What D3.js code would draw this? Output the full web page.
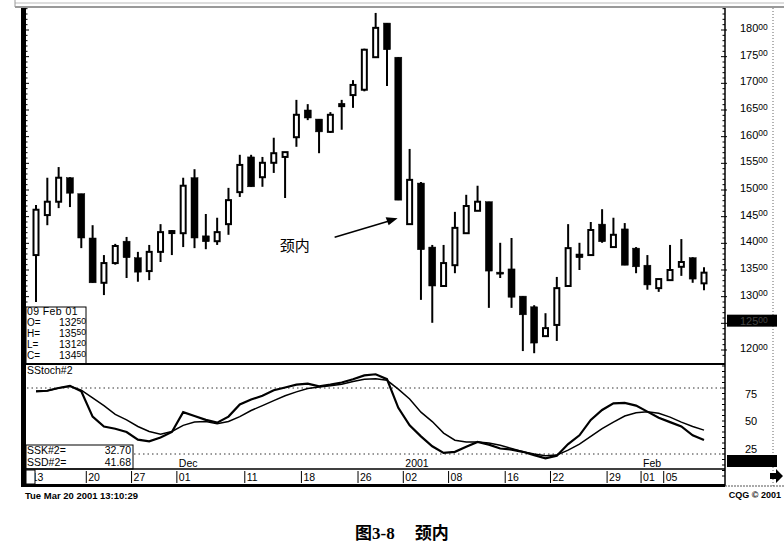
<!DOCTYPE html>
<html>
<head>
<meta charset="utf-8">
<script src="https://cdn.jsdelivr.net/npm/d3@7/dist/d3.min.js"></script>
<style>
  body { margin: 0; background: #fff; }
  svg { display: block; font-family: "Liberation Sans", Arial, sans-serif; }
  text { fill: #000; }
</style>
</head>
<body>
<svg id="chart" width="784" height="544"></svg>
<script>
// trading days shown on the chart
const dates = [
  '2000-11-14','2000-11-15','2000-11-16','2000-11-17','2000-11-20','2000-11-21','2000-11-22','2000-11-24',
  '2000-11-27','2000-11-28','2000-11-29','2000-11-30','2000-12-01','2000-12-04','2000-12-05','2000-12-06',
  '2000-12-07','2000-12-08','2000-12-11','2000-12-12','2000-12-13','2000-12-14','2000-12-15','2000-12-18',
  '2000-12-19','2000-12-20','2000-12-21','2000-12-22','2000-12-26','2000-12-27','2000-12-28','2000-12-29',
  '2001-01-02','2001-01-03','2001-01-04','2001-01-05','2001-01-08','2001-01-09','2001-01-10','2001-01-11',
  '2001-01-12','2001-01-16','2001-01-17','2001-01-18','2001-01-19','2001-01-22','2001-01-23','2001-01-24',
  '2001-01-25','2001-01-26','2001-01-29','2001-01-30','2001-01-31','2001-02-01','2001-02-02','2001-02-05',
  '2001-02-06','2001-02-07','2001-02-08','2001-02-09'
];
const opens = [
  13780,14530,14780,15230,14930,14100,13260,13630,14040,13730,13480,13840,14200,14190,15230,14140,
  14040,14360,14960,15620,15240,15510,15620,15990,16500,16330,16090,16580,16780,16880,17490,18130,
  17490,14360,15130,13930,13200,13590,14190,14610,14780,13460,13520,13010,12810,12260,12470,13200,
  13800,13780,14360,13930,14270,13910,13590,13160,13310,13560,13730,13250
];
const highs = [
  14720,15230,15430,15240,14930,14340,13780,13990,14120,13840,13970,14360,14250,15230,15390,14550,
  14480,15040,15660,15660,15620,15980,15710,16690,16610,16330,16460,16690,17060,17650,18320,18130,
  17490,15770,15150,13970,13970,14590,14910,15080,14780,14010,14100,13010,12840,12690,13370,14360,
  14010,14400,14640,14480,14380,13930,13780,13330,13970,14080,13740,13550
];
const lows = [
  12900,14340,14660,14680,13910,13260,13030,13600,13350,13280,13310,13650,13780,13930,13910,13890,
  13970,14160,14870,15060,15060,15320,14850,15810,16310,15690,16070,16130,16540,16850,17490,16950,
  14810,14360,12940,12510,13200,13440,14190,14610,12790,13350,12790,11980,11940,12260,12170,13200,
  13500,13780,14010,13930,13590,13440,13130,13090,13310,13390,13260,13120
];
const closes = [
  14630,14780,15230,14940,14100,13260,13630,13950,13730,13460,13840,14210,14230,15080,14100,14030,
  14210,14810,15470,15060,15510,15690,15710,16410,16350,16090,16410,16610,16970,17630,18040,17630,
  14810,15190,13880,13200,13630,14290,14700,14780,13480,13440,12990,12660,12130,12410,13160,13910,
  13730,14250,14030,14160,13590,13560,13220,13330,13500,13650,13330,13450
];

// slow stochastic, fast (SSK) and slow (SSD) lines
const sskValues = [
  77,77.5,80,82,77,54,45,43,40,33,31.5,35,40,58,54.5,51,48.5,54,65,69.5,73,78,80.5,83,84,81.5,83,85,88,91.5,
  92.5,88,62,46,36,27,21,22,26.5,31,28.5,25,24,22,19,16,18.5,29,37,51,60,66,66.5,64,58.5,53,49,45,37,32.7
];
const ssdValues = [
  77,77.5,80,81.5,78,71,64,56,51,45,40.5,38,40.5,46,49,49.5,47.5,49.5,54,59.5,64,68.5,73,76.5,79.5,81,82,83.5,86,88,
  88.5,87,79,70,58,49.5,39,32.5,31,31,30,28,25,22,20,18.5,19,23.5,29,36,43,49,54.5,57.5,58.5,57,53.5,49,45,41.68
];

const priceTicks = [18000,17500,17000,16500,16000,15500,15000,14500,14000,13500,13000,12500,12000];
const stochTicks = [75, 50, 25];
const stochGuides = [80, 20];
const dayTickDates = ['2000-11-13','2000-11-20','2000-11-27','2000-12-01','2000-12-11','2000-12-18','2000-12-26',
  '2001-01-02','2001-01-08','2001-01-16','2001-01-22','2001-01-29','2001-02-01','2001-02-05'];
const dayTickLabels = ['13','20','27','01','11','18','26','02','08','16','22','29','01','05'];
const monthTickDates = ['2000-12-01','2001-01-02','2001-02-01'];
const monthTickLabels = ['Dec','2001','Feb'];
const lastBar = { date: '09 Feb 01', o: 13250, h: 13550, l: 13120, c: 13450 };
const markerPrice = 12550;

const svg = d3.select('#chart');
const cjk = '"Noto Sans CJK SC", sans-serif';

const x = d3.scalePoint().domain(dates).range([36, 704]);
const xAt = (d) => {
  // dates before the first bar sit one step to the left
  const px = x(d);
  return px === undefined ? x(dates[0]) - x.step() * (dates[0] > d ? 1 : 0) : px;
};
const yP = d3.scaleLinear().domain([12000, 18000]).range([350, 30]);
const yS = d3.scaleLinear().domain([0, 100]).range([476, 366]);

// window frame
svg.append('line').attr('x1', 15).attr('x2', 784).attr('y1', 3).attr('y2', 3).attr('stroke', '#bbb');
svg.append('line').attr('x1', 15).attr('x2', 784).attr('y1', 7).attr('y2', 7).attr('stroke', '#777').attr('stroke-width', 1.5);
svg.append('line').attr('x1', 15).attr('x2', 15).attr('y1', 0).attr('y2', 7).attr('stroke', '#999');

// left heavy border with ticks
svg.append('rect').attr('x', 21).attr('y', 8).attr('width', 5).attr('height', 479).attr('fill', '#000');
svg.append('g').selectAll('line').data(d3.range(12000, 18401, 100)).join('line')
  .attr('x1', 26).attr('x2', (d) => d % 500 === 0 ? 29 : 27.5)
  .attr('y1', (d) => yP(d)).attr('y2', (d) => yP(d))
  .attr('stroke', '#000').attr('stroke-width', 1);

// price axis
const axisX = 725;
svg.append('line').attr('x1', axisX).attr('x2', axisX).attr('y1', 8).attr('y2', 486).attr('stroke', '#000').attr('stroke-width', 1.5);
svg.append('g').selectAll('line').data(d3.range(11900, 18401, 100)).join('line')
  .attr('x1', (d) => d % 500 === 0 ? axisX - 4 : axisX - 2.5).attr('x2', (d) => d % 500 === 0 ? axisX + 2 : axisX)
  .attr('y1', (d) => yP(d)).attr('y2', (d) => yP(d))
  .attr('stroke', '#000').attr('stroke-width', 1);
svg.append('line').attr('x1', 773).attr('x2', 773).attr('y1', 8).attr('y2', 486)
  .attr('stroke', '#666').attr('stroke-dasharray', '1,2');

const priceLabel = (sel, fill) => {
  sel.append('tspan').text((d) => String(d).slice(0, 3)).attr('fill', fill);
  sel.append('tspan').text((d) => String(d).slice(3)).attr('font-size', 8.5).attr('dy', -2.5).attr('fill', fill);
};

svg.append('rect').attr('x', 727).attr('y', yP(markerPrice) - 6).attr('width', 50).attr('height', 12).attr('fill', '#000');

svg.append('g').selectAll('text').data(priceTicks).join('text')
  .attr('x', 740).attr('y', (d) => yP(d) + 2)
  .attr('font-size', 11)
  .call(priceLabel, (d) => d === 12500 ? '#444' : '#000');

// candles
const candles = dates.map((d, i) => ({ d, o: opens[i], h: highs[i], l: lows[i], c: closes[i] }));
const cg = svg.append('g');
cg.selectAll('line.wick').data(candles).join('line')
  .attr('class', 'wick')
  .attr('x1', (d) => x(d.d)).attr('x2', (d) => x(d.d))
  .attr('y1', (d) => yP(d.h)).attr('y2', (d) => yP(d.l))
  .attr('stroke', '#000').attr('stroke-width', 2);
cg.selectAll('rect.body').data(candles).join('rect')
  .attr('class', 'body')
  .attr('x', (d) => x(d.d) - (d.c >= d.o ? 2.5 : 3.5))
  .attr('width', (d) => d.c >= d.o ? 5 : 7)
  .attr('y', (d) => yP(Math.max(d.o, d.c)))
  .attr('height', (d) => Math.max(2, Math.abs(yP(d.o) - yP(d.c))))
  .attr('fill', (d) => d.c >= d.o ? '#fff' : '#000')
  .attr('stroke', '#000').attr('stroke-width', (d) => d.c >= d.o ? 2 : 0.5);

// annotation
const tipX = x('2001-01-03') - 12;
const tipY = yP(14470);
svg.append('line').attr('x1', tipX - 63).attr('y1', tipY + 19).attr('x2', tipX - 6).attr('y2', tipY + 2)
  .attr('stroke', '#000').attr('stroke-width', 1.5);
svg.append('path')
  .attr('d', `M${tipX},${tipY} L${tipX - 12},${tipY - 1} L${tipX - 9},${tipY + 7} Z`)
  .attr('fill', '#000');
svg.append('text').attr('x', tipX - 118).attr('y', tipY + 33)
  .style('font-family', cjk).attr('font-size', 15)
  .text('颈内');

// OHLC box of the last bar
const ob = svg.append('g').attr('font-size', 10);
ob.append('rect').attr('x', 26).attr('y', 307).attr('width', 60).attr('height', 57)
  .attr('fill', '#fff').attr('stroke', '#000').attr('stroke-width', 1);
ob.append('text').attr('x', 27).attr('y', 315).text(lastBar.date).attr('font-size', 10.5).attr('letter-spacing', 0.4);
const ohlcRows = [['O=', lastBar.o], ['H=', lastBar.h], ['L=', lastBar.l], ['C=', lastBar.c]];
ohlcRows.forEach(([k, v], i) => {
  ob.append('text').attr('x', 27).attr('y', 326 + i * 11).text(k);
  ob.append('text').datum(v).attr('x', 59).attr('y', 326 + i * 11).attr('font-size', 10.5)
    .call(priceLabel, '#000');
});

// panel separator
svg.append('line').attr('x1', 26).attr('x2', axisX).attr('y1', 364).attr('y2', 364).attr('stroke', '#000').attr('stroke-width', 2);

// stochastic panel
svg.append('text').attr('x', 27).attr('y', 374).attr('font-size', 10.5).text('SStoch#2');
svg.append('g').selectAll('line').data(stochGuides).join('line')
  .attr('x1', (d) => d === 20 ? 134 : 27).attr('x2', axisX)
  .attr('y1', (d) => yS(d)).attr('y2', (d) => yS(d))
  .attr('stroke', '#333').attr('stroke-dasharray', '1.5,3');
svg.append('g').selectAll('line').data(d3.range(0, 101, 5)).join('line')
  .attr('x1', axisX - 3).attr('x2', axisX)
  .attr('y1', (d) => yS(d)).attr('y2', (d) => yS(d)).attr('stroke', '#000');
svg.append('g').selectAll('text').data(stochTicks).join('text')
  .attr('x', 745).attr('y', (d) => yS(d) + 4).attr('font-size', 11).text((d) => d);
svg.append('rect').attr('x', 727).attr('y', 455).attr('width', 50).attr('height', 12).attr('fill', '#000');

const stochLine = d3.line().x((d, i) => x(dates[i])).y((d) => yS(d));
svg.append('path').datum(ssdValues).attr('d', stochLine)
  .attr('fill', 'none').attr('stroke', '#000').attr('stroke-width', 1.5);
svg.append('path').datum(sskValues).attr('d', stochLine)
  .attr('fill', 'none').attr('stroke', '#000').attr('stroke-width', 2.2);

// stochastic readout box
const sb = svg.append('g').attr('font-size', 10.5);
sb.append('rect').attr('x', 26).attr('y', 445).attr('width', 107).attr('height', 24)
  .attr('fill', '#fff').attr('stroke', '#000');
sb.append('text').attr('x', 27).attr('y', 454).text('SSK#2=');
sb.append('text').attr('x', 131).attr('y', 454).attr('text-anchor', 'end').text(sskValues[sskValues.length - 1].toFixed(2));
sb.append('text').attr('x', 27).attr('y', 466).text('SSD#2=');
sb.append('text').attr('x', 131).attr('y', 466).attr('text-anchor', 'end').text(ssdValues[ssdValues.length - 1].toFixed(2));

// month labels
svg.append('g').selectAll('text').data(monthTickDates).join('text')
  .attr('x', (d) => xAt(d) + 7).attr('y', 467).attr('font-size', 10.5)
  .text((d, i) => monthTickLabels[i]);

// date row
svg.append('line').attr('x1', 26).attr('x2', axisX).attr('y1', 469).attr('y2', 469).attr('stroke', '#000').attr('stroke-width', 1.5);
const dg = svg.append('g');
dg.selectAll('line').data(dayTickDates).join('line')
  .attr('x1', (d) => xAt(d) + 5).attr('x2', (d) => xAt(d) + 5)
  .attr('y1', 471).attr('y2', 483).attr('stroke', '#000').attr('stroke-width', 1);
dg.selectAll('text').data(dayTickDates).join('text')
  .attr('x', (d) => xAt(d) + 7).attr('y', 481).attr('font-size', 10.5)
  .text((d, i) => dayTickLabels[i]);
svg.append('rect').attr('x', 26).attr('y', 470).attr('width', 9).attr('height', 14)
  .attr('fill', '#fff').attr('stroke', '#000');
svg.append('path').attr('d', 'M770,473 L776,473 L776,469 L783,476 L776,483 L776,479 L770,479 Z').attr('fill', '#000');
svg.append('line').attr('x1', 21).attr('x2', axisX).attr('y1', 485.5).attr('y2', 485.5).attr('stroke', '#000').attr('stroke-width', 3);
svg.append('line').attr('x1', axisX).attr('x2', 784).attr('y1', 486).attr('y2', 486).attr('stroke', '#555').attr('stroke-dasharray', '2,1');

// footer
svg.append('text').attr('x', 25).attr('y', 499).attr('font-size', 9.5).attr('font-weight', 'bold')
  .attr('textLength', 113).attr('lengthAdjust', 'spacingAndGlyphs').text('Tue Mar 20 2001 13:10:29');
svg.append('text').attr('x', 781).attr('y', 498).attr('font-size', 9).attr('font-weight', 'bold')
  .attr('text-anchor', 'end').text('CQG © 2001');

// caption
const cap = svg.append('text').attr('x', 355).attr('y', 539).attr('font-size', 17).attr('font-weight', 'bold')
  .style('font-family', '"Liberation Serif", "Noto Sans CJK SC", serif');
cap.append('tspan').style('font-family', cjk).text('图');
cap.append('tspan').text('3-8');
cap.append('tspan').attr('dx', 20).style('font-family', cjk).text('颈内');
</script>
</body>
</html>
